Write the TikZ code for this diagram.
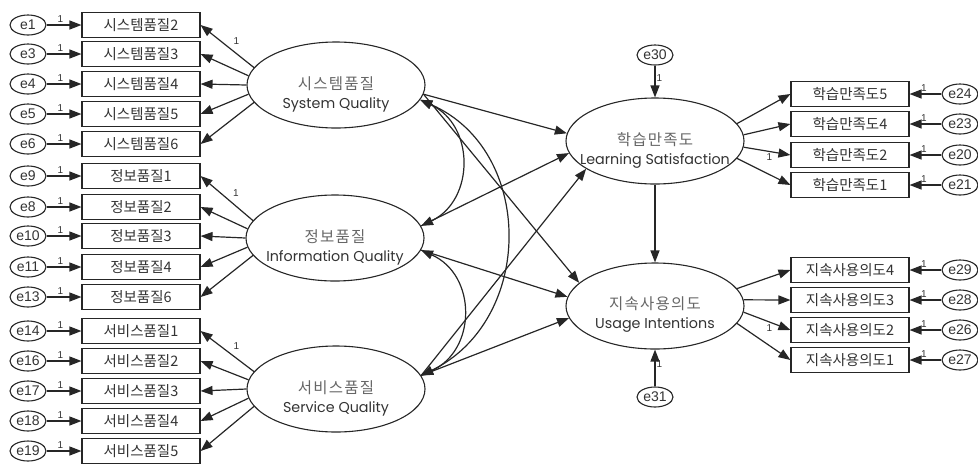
\documentclass[tikz,border=0pt]{standalone}
\usepackage{fontspec}
\setmainfont{Liberation Sans}
\newfontfamily\kor{Noto Sans CJK KR}
\newfontfamily\korwide[LetterSpace=8]{Noto Sans CJK KR}
\newfontfamily\pop{Poppins}
\usepackage{tikz}
\usetikzlibrary{shapes,arrows.meta,positioning,calc}
\tikzset{errnode/.style={ellipse,draw=black!85,line width=1.1pt,minimum width=36pt,minimum height=20pt,inner sep=0pt,text=black!80,font=\fontsize{14}{14}\selectfont}}
\tikzset{obsbox/.style={rectangle,draw=black!85,line width=1.1pt,minimum width=118pt,minimum height=25pt,inner sep=0pt,text=black!80,font=\kor\fontsize{14.5}{15}\selectfont}}
\tikzset{latent/.style={ellipse,draw=black!85,line width=1.1pt,minimum width=178pt,minimum height=86pt,inner sep=0pt}}
\tikzset{lattext/.style={align=center,text=black!80,font=\pop\fontsize{14.3}{19}\selectfont}}
\tikzset{one/.style={inner sep=1pt,text=black!80,font=\fontsize{10}{10}\selectfont}}

\begin{document}
\begin{tikzpicture}[x=1pt,y=-1pt,line width=1.2pt,draw=black!85,>={Triangle[length=12pt,width=9pt]}]
\useasboundingbox (0,0) rectangle (978,467);
\node[latent] (sysL) at (336,85) {};
\node[latent] (infL) at (335,238) {};
\node[latent] (srvL) at (336,389) {};
\node[latent] (lsL) at (655,141) {};
\node[latent] (uiL) at (655,306) {};
\node[lattext] (sysT) at ($(sysL)+(0,9)$) {\textcolor{black!60}{\korwide\fontsize{15.5}{19}\selectfont 시스템품질}\\System Quality};
\node[lattext] (infT) at ($(infL)+(0,9)$) {\textcolor{black!60}{\korwide\fontsize{15.5}{19}\selectfont 정보품질}\\Information Quality};
\node[lattext] (srvT) at ($(srvL)+(0,9)$) {\textcolor{black!60}{\korwide\fontsize{15.5}{19}\selectfont 서비스품질}\\Service Quality};
\node[lattext] (lsT) at ($(lsL)+(0,9)$) {\textcolor{black!60}{\korwide\fontsize{15.5}{19}\selectfont 학습만족도}\\Learning Satisfaction};
\node[lattext] (uiT) at ($(uiL)+(0,9)$) {\textcolor{black!60}{\korwide\fontsize{15.5}{19}\selectfont 지속사용의도}\\Usage Intentions};

\foreach \e/\t/\y [count=\i] in {e1/시스템품질2/25,e3/시스템품질3/54,e4/시스템품질4/84,e5/시스템품질5/114,e6/시스템품질6/144,
  e9/정보품질1/176,e8/정보품질2/207,e10/정보품질3/236,e11/정보품질4/267,e13/정보품질6/297,
  e14/서비스품질1/331,e16/서비스품질2/361,e17/서비스품질3/391,e18/서비스품질4/421,e19/서비스품질5/451}{
  \node[errnode] (le\i) at (28,\y) {\e};
  \node[obsbox] (lo\i) at (141,\y) {\t};
  \draw[->] (le\i) -- node[one,above=1pt,pos=0.4]{1} (lo\i);
}
\draw[->] (sysL.168) -- node[one,pos=0.45,above right=3pt]{1} (lo1.east);
\foreach \i/\a in {2/174,3/180,4/186,5/192} \draw[->] (sysL.\a) -- (lo\i.east);
\draw[->] (infL.168) -- node[one,pos=0.45,above right=3pt]{1} (lo6.east);
\foreach \i/\a in {7/174,8/180,9/186,10/192} \draw[->] (infL.\a) -- (lo\i.east);
\draw[->] (srvL.168) -- node[one,pos=0.45,above right=3pt]{1} (lo11.east);
\foreach \i/\a in {12/174,13/180,14/186,15/192} \draw[->] (srvL.\a) -- (lo\i.east);

\foreach \e/\t/\y [count=\i] in {e24/학습만족도5/94,e23/학습만족도4/124,e20/학습만족도2/155,e21/학습만족도1/185,
  e29/지속사용의도4/270,e28/지속사용의도3/300,e26/지속사용의도2/330,e27/지속사용의도1/360}{
  \node[errnode] (re\i) at (960,\y) {\e};
  \node[obsbox] (ro\i) at (850,\y) {\t};
  \draw[->] (re\i) -- node[one,above=1pt,pos=0.55]{1} (ro\i);
}
\foreach \i/\a in {1/12,2/4,4/348} \draw[->] (lsL.\a) -- (ro\i.west);
\draw[->] (lsL.356) -- node[one,below=1pt,pos=0.55]{1} (ro3.west);
\foreach \i/\a in {5/12,6/4,8/348} \draw[->] (uiL.\a) -- (ro\i.west);
\draw[->] (uiL.356) -- node[one,below=1pt,pos=0.55]{1} (ro7.west);

\node[errnode] (e30) at (655,55) {e30};
\node[errnode] (e31) at (655,397) {e31};
\draw[->] (e30) -- node[one,right,pos=0.4]{1} (lsL);
\draw[->] (e31) -- node[one,right,pos=0.6]{1} (uiL);
\draw[->] (lsL) -- (uiL);

\draw[->] (sysL.354) -- (lsL.175);
\draw[->] (sysL.354) -- (uiL.163);
\draw[->] (infL.8) -- (lsL.188);
\draw[->] (infL.352) -- (uiL.174);
\draw[->] (srvL.9) -- (lsL.202);
\draw[->] (srvL.9) -- (uiL.188);

\draw[<->] (sysL.350) .. controls (475,125) and (475,200) .. (infL.8);
\draw[<->] (sysL.350) .. controls (535,150) and (535,320) .. (srvL.9);
\draw[<->] (infL.352) .. controls (477,275) and (477,350) .. (srvL.9);
\end{tikzpicture}
\end{document}
